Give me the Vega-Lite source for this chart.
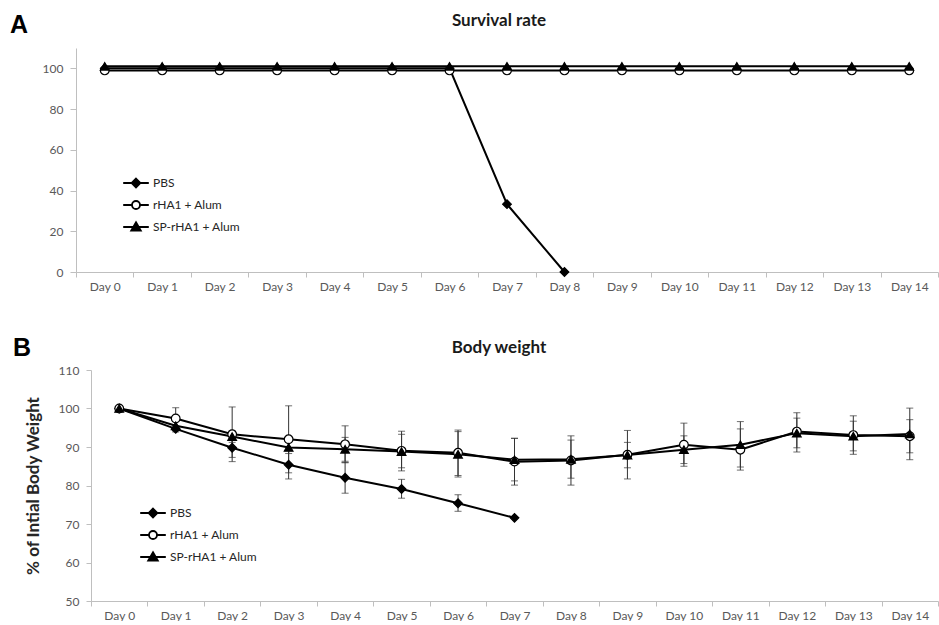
{
  "$schema": "https://vega.github.io/schema/vega-lite/v6.json",
  "background": "white",
  "padding": {"left": 10, "top": 12, "right": 0, "bottom": 0},
  "config": {
    "view": {"stroke": null},
    "font": "Lato",
    "axis": {"grid": false, "domainColor": "#BFBFBF", "tickColor": "#BFBFBF", "labelColor": "#595959", "labelFont": "Lato", "labelFontSize": 12, "tickSize": 5, "labelPadding": 7},
    "title": {"font": "Lato", "fontWeight": "bold", "fontSize": 17, "color": "#1a1a1a"},
    "legend": {"padding": 0, "rowPadding": 5, "labelFont": "Lato", "labelFontSize": 12, "labelColor": "#262626", "symbolSize": 256, "symbolStrokeWidth": 1.8, "labelOffset": 8}
  },
  "datasets": {
    "surv": [
      {"t": 0, "s": "PBS", "v": 100}, {"t": 1, "s": "PBS", "v": 100}, {"t": 2, "s": "PBS", "v": 100}, {"t": 3, "s": "PBS", "v": 100}, {"t": 4, "s": "PBS", "v": 100}, {"t": 5, "s": "PBS", "v": 100}, {"t": 6, "s": "PBS", "v": 100}, {"t": 7, "s": "PBS", "v": 33.3}, {"t": 8, "s": "PBS", "v": 0},
      {"t": 0, "s": "rHA1 + Alum", "v": 99}, {"t": 1, "s": "rHA1 + Alum", "v": 99}, {"t": 2, "s": "rHA1 + Alum", "v": 99}, {"t": 3, "s": "rHA1 + Alum", "v": 99}, {"t": 4, "s": "rHA1 + Alum", "v": 99}, {"t": 5, "s": "rHA1 + Alum", "v": 99}, {"t": 6, "s": "rHA1 + Alum", "v": 99}, {"t": 7, "s": "rHA1 + Alum", "v": 99}, {"t": 8, "s": "rHA1 + Alum", "v": 99}, {"t": 9, "s": "rHA1 + Alum", "v": 99}, {"t": 10, "s": "rHA1 + Alum", "v": 99}, {"t": 11, "s": "rHA1 + Alum", "v": 99}, {"t": 12, "s": "rHA1 + Alum", "v": 99}, {"t": 13, "s": "rHA1 + Alum", "v": 99}, {"t": 14, "s": "rHA1 + Alum", "v": 99},
      {"t": 0, "s": "SP-rHA1 + Alum", "v": 101}, {"t": 1, "s": "SP-rHA1 + Alum", "v": 101}, {"t": 2, "s": "SP-rHA1 + Alum", "v": 101}, {"t": 3, "s": "SP-rHA1 + Alum", "v": 101}, {"t": 4, "s": "SP-rHA1 + Alum", "v": 101}, {"t": 5, "s": "SP-rHA1 + Alum", "v": 101}, {"t": 6, "s": "SP-rHA1 + Alum", "v": 101}, {"t": 7, "s": "SP-rHA1 + Alum", "v": 101}, {"t": 8, "s": "SP-rHA1 + Alum", "v": 101}, {"t": 9, "s": "SP-rHA1 + Alum", "v": 101}, {"t": 10, "s": "SP-rHA1 + Alum", "v": 101}, {"t": 11, "s": "SP-rHA1 + Alum", "v": 101}, {"t": 12, "s": "SP-rHA1 + Alum", "v": 101}, {"t": 13, "s": "SP-rHA1 + Alum", "v": 101}, {"t": 14, "s": "SP-rHA1 + Alum", "v": 101}
    ],
    "bw": [
      {"t": 0, "s": "PBS", "w": 100, "lo": null, "hi": null},
      {"t": 1, "s": "PBS", "w": 94.7, "lo": 93.9, "hi": 95.5},
      {"t": 2, "s": "PBS", "w": 89.8, "lo": 87.3, "hi": 92.3},
      {"t": 3, "s": "PBS", "w": 85.4, "lo": 81.7, "hi": 89.1},
      {"t": 4, "s": "PBS", "w": 82.0, "lo": 78.0, "hi": 86.0},
      {"t": 5, "s": "PBS", "w": 79.1, "lo": 76.7, "hi": 81.6},
      {"t": 6, "s": "PBS", "w": 75.4, "lo": 73.3, "hi": 77.6},
      {"t": 7, "s": "PBS", "w": 71.6, "lo": null, "hi": null},
      {"t": 0, "s": "rHA1 + Alum", "w": 100, "lo": null, "hi": null},
      {"t": 1, "s": "rHA1 + Alum", "w": 97.4, "lo": 94.6, "hi": 100.2},
      {"t": 2, "s": "rHA1 + Alum", "w": 93.3, "lo": 86.2, "hi": 100.4},
      {"t": 3, "s": "rHA1 + Alum", "w": 92.0, "lo": 83.3, "hi": 100.7},
      {"t": 4, "s": "rHA1 + Alum", "w": 90.7, "lo": 85.9, "hi": 95.5},
      {"t": 5, "s": "rHA1 + Alum", "w": 89.0, "lo": 83.8, "hi": 94.1},
      {"t": 6, "s": "rHA1 + Alum", "w": 88.5, "lo": 82.6, "hi": 94.4},
      {"t": 7, "s": "rHA1 + Alum", "w": 86.2, "lo": 80.1, "hi": 92.3},
      {"t": 8, "s": "rHA1 + Alum", "w": 86.5, "lo": 80.1, "hi": 92.9},
      {"t": 9, "s": "rHA1 + Alum", "w": 88.0, "lo": 81.7, "hi": 94.3},
      {"t": 10, "s": "rHA1 + Alum", "w": 90.6, "lo": 85.0, "hi": 96.2},
      {"t": 11, "s": "rHA1 + Alum", "w": 89.3, "lo": 84.0, "hi": 94.7},
      {"t": 12, "s": "rHA1 + Alum", "w": 94.0, "lo": 88.7, "hi": 98.9},
      {"t": 13, "s": "rHA1 + Alum", "w": 93.1, "lo": 88.1, "hi": 98.1},
      {"t": 14, "s": "rHA1 + Alum", "w": 92.8, "lo": 88.5, "hi": 97.1},
      {"t": 0, "s": "SP-rHA1 + Alum", "w": 100, "lo": null, "hi": null},
      {"t": 1, "s": "SP-rHA1 + Alum", "w": 95.5, "lo": 94.2, "hi": 96.8},
      {"t": 2, "s": "SP-rHA1 + Alum", "w": 92.7, "lo": 91.2, "hi": 94.2},
      {"t": 3, "s": "SP-rHA1 + Alum", "w": 89.9, "lo": 88.3, "hi": 91.5},
      {"t": 4, "s": "SP-rHA1 + Alum", "w": 89.4, "lo": 86.3, "hi": 92.5},
      {"t": 5, "s": "SP-rHA1 + Alum", "w": 88.8, "lo": 84.6, "hi": 93.3},
      {"t": 6, "s": "SP-rHA1 + Alum", "w": 88.1, "lo": 82.2, "hi": 94.0},
      {"t": 7, "s": "SP-rHA1 + Alum", "w": 86.7, "lo": 81.2, "hi": 92.2},
      {"t": 8, "s": "SP-rHA1 + Alum", "w": 86.8, "lo": 81.9, "hi": 91.8},
      {"t": 9, "s": "SP-rHA1 + Alum", "w": 87.9, "lo": 84.6, "hi": 91.2},
      {"t": 10, "s": "SP-rHA1 + Alum", "w": 89.3, "lo": 85.7, "hi": 92.9},
      {"t": 11, "s": "SP-rHA1 + Alum", "w": 90.6, "lo": 84.8, "hi": 96.6},
      {"t": 12, "s": "SP-rHA1 + Alum", "w": 93.6, "lo": 89.8, "hi": 97.5},
      {"t": 13, "s": "SP-rHA1 + Alum", "w": 92.8, "lo": 89.0, "hi": 96.7},
      {"t": 14, "s": "SP-rHA1 + Alum", "w": 93.4, "lo": 86.7, "hi": 100.1}
    ]
  },
  "spacing": 44,
  "resolve": {"scale": {"shape": "independent", "fill": "independent", "stroke": "independent"}, "legend": {"shape": "independent", "fill": "independent", "stroke": "independent"}},
  "vconcat": [
    {
      "title": {"text": "A", "anchor": "start", "frame": "group", "font": "Liberation Sans", "fontSize": 25, "fontWeight": "bold", "color": "black", "dx": -66, "dy": 30},
      "vconcat": [
        {
          "width": 862,
          "height": 224,
          "title": {"text": "Survival rate", "offset": 18, "dx": -8},
          "data": {"name": "surv"},
          "encoding": {
            "x": {"field": "t", "type": "ordinal", "scale": {"type": "band", "paddingInner": 0, "paddingOuter": 0}, "axis": {"title": null, "labelExpr": "isValid(datum.value) ? 'Day ' + datum.value : ''", "labelAngle": 0, "tickBand": "extent", "labelPadding": 4}},
            "y": {"field": "v", "type": "quantitative", "scale": {"domain": [0, 110]}, "axis": {"title": null, "values": [0, 20, 40, 60, 80, 100], "tickSize": 6}}
          },
          "resolve": {"scale": {"shape": "independent", "fill": "independent", "stroke": "independent"}, "legend": {"shape": "independent", "fill": "independent", "stroke": "independent"}},
          "layer": [
            {"mark": {"type": "line", "color": "black", "strokeWidth": 2}, "encoding": {"detail": {"field": "s"}}},
            {
              "mark": {"type": "point", "filled": true, "stroke": "black", "strokeWidth": 1.2, "size": 75, "opacity": 1},
              "encoding": {
                "shape": {"field": "s", "type": "nominal", "scale": {"domain": ["PBS", "rHA1 + Alum", "SP-rHA1 + Alum"], "range": ["diamond", "circle", "triangle-up"]}, "legend": null},
                "fill": {"field": "s", "type": "nominal", "scale": {"domain": ["PBS", "rHA1 + Alum", "SP-rHA1 + Alum"], "range": ["black", "white", "black"]}, "legend": null}
              }
            },
            {
              "transform": [{"filter": "false"}],
              "mark": {"type": "point", "filled": true, "strokeWidth": 1.8, "opacity": 1},
              "encoding": {
                "shape": {"field": "s", "type": "nominal", "scale": {"domain": ["PBS", "rHA1 + Alum", "SP-rHA1 + Alum"], "range": ["M-1.6,0H1.6M0,-0.55L0.55,0L0,0.55L-0.55,0Z", "M-1.6,0H-0.5M0.5,0H1.6M0.5,0A0.5,0.5,0,1,1,-0.5,0A0.5,0.5,0,1,1,0.5,0Z", "M-1.6,0H1.6M0,-0.6L0.6,0.45L-0.6,0.45Z"]}, "legend": {"title": null, "orient": "none", "legendX": 51, "legendY": 126}},
                "fill": {"field": "s", "type": "nominal", "scale": {"domain": ["PBS", "rHA1 + Alum", "SP-rHA1 + Alum"], "range": ["black", "white", "black"]}, "legend": {"title": null, "orient": "none", "legendX": 51, "legendY": 126}},
                "stroke": {"field": "s", "type": "nominal", "scale": {"domain": ["PBS", "rHA1 + Alum", "SP-rHA1 + Alum"], "range": ["black", "black", "black"]}, "legend": {"title": null, "orient": "none", "legendX": 51, "legendY": 126}}
              }
            }
          ]
        }
      ]
    },
    {
      "title": {"text": "B", "anchor": "start", "frame": "group", "font": "Liberation Sans", "fontSize": 25, "fontWeight": "bold", "color": "black", "dx": -63, "dy": 26},
      "vconcat": [
        {
          "width": 862,
          "height": 231,
          "title": {"text": "Body weight", "offset": 7, "dx": -8},
          "data": {"name": "bw"},
          "encoding": {
            "x": {"field": "t", "type": "ordinal", "scale": {"type": "band", "paddingInner": 0, "paddingOuter": 0, "range": [15, 862]}, "axis": {"title": null, "labelExpr": "isValid(datum.value) ? 'Day ' + datum.value : ''", "labelAngle": 0, "tickBand": "extent", "labelPadding": 4}}
          },
          "resolve": {"scale": {"shape": "independent", "fill": "independent", "stroke": "independent"}, "legend": {"shape": "independent", "fill": "independent", "stroke": "independent"}},
          "layer": [
            {"mark": {"type": "rule", "color": "#333333", "strokeWidth": 1},
             "encoding": {"y": {"field": "lo", "type": "quantitative", "scale": {"domain": [50, 110]}, "axis": {"title": "% of Intial Body Weight", "values": [50, 60, 70, 80, 90, 100, 110], "offset": -15, "titleFont": "Lato", "titleFontSize": 17, "titleFontWeight": "bold", "titleColor": "#262626", "titlePadding": 16}}, "y2": {"field": "hi"}}},
            {"mark": {"type": "tick", "color": "#333333", "thickness": 1, "size": 7},
             "encoding": {"y": {"field": "lo", "type": "quantitative", "scale": {"domain": [50, 110]}, "axis": {"title": "% of Intial Body Weight", "values": [50, 60, 70, 80, 90, 100, 110], "offset": -15, "titleFont": "Lato", "titleFontSize": 17, "titleFontWeight": "bold", "titleColor": "#262626", "titlePadding": 16}}}},
            {"mark": {"type": "tick", "color": "#333333", "thickness": 1, "size": 7},
             "encoding": {"y": {"field": "hi", "type": "quantitative", "scale": {"domain": [50, 110]}, "axis": {"title": "% of Intial Body Weight", "values": [50, 60, 70, 80, 90, 100, 110], "offset": -15, "titleFont": "Lato", "titleFontSize": 17, "titleFontWeight": "bold", "titleColor": "#262626", "titlePadding": 16}}}},
            {"mark": {"type": "line", "color": "black", "strokeWidth": 2},
             "encoding": {"y": {"field": "w", "type": "quantitative", "scale": {"domain": [50, 110]}, "axis": {"title": "% of Intial Body Weight", "values": [50, 60, 70, 80, 90, 100, 110], "offset": -15, "titleFont": "Lato", "titleFontSize": 17, "titleFontWeight": "bold", "titleColor": "#262626", "titlePadding": 16}}, "detail": {"field": "s"}}},
            {
              "mark": {"type": "point", "filled": true, "stroke": "black", "strokeWidth": 1.2, "size": 75, "opacity": 1},
              "encoding": {
                "y": {"field": "w", "type": "quantitative", "scale": {"domain": [50, 110]}, "axis": {"title": "% of Intial Body Weight", "values": [50, 60, 70, 80, 90, 100, 110], "offset": -15, "titleFont": "Lato", "titleFontSize": 17, "titleFontWeight": "bold", "titleColor": "#262626", "titlePadding": 16}},
                "shape": {"field": "s", "type": "nominal", "scale": {"domain": ["PBS", "rHA1 + Alum", "SP-rHA1 + Alum"], "range": ["diamond", "circle", "triangle-up"]}, "legend": null},
                "fill": {"field": "s", "type": "nominal", "scale": {"domain": ["PBS", "rHA1 + Alum", "SP-rHA1 + Alum"], "range": ["black", "white", "black"]}, "legend": null}
              }
            },
            {
              "transform": [{"filter": "false"}],
              "mark": {"type": "point", "filled": true, "strokeWidth": 1.8, "opacity": 1},
              "encoding": {
                "y": {"field": "w", "type": "quantitative", "scale": {"domain": [50, 110]}, "axis": {"title": "% of Intial Body Weight", "values": [50, 60, 70, 80, 90, 100, 110], "offset": -15, "titleFont": "Lato", "titleFontSize": 17, "titleFontWeight": "bold", "titleColor": "#262626", "titlePadding": 16}},
                "shape": {"field": "s", "type": "nominal", "scale": {"domain": ["PBS", "rHA1 + Alum", "SP-rHA1 + Alum"], "range": ["M-1.6,0H1.6M0,-0.55L0.55,0L0,0.55L-0.55,0Z", "M-1.6,0H-0.5M0.5,0H1.6M0.5,0A0.5,0.5,0,1,1,-0.5,0A0.5,0.5,0,1,1,0.5,0Z", "M-1.6,0H1.6M0,-0.6L0.6,0.45L-0.6,0.45Z"]}, "legend": {"title": null, "orient": "none", "legendX": 68, "legendY": 134}},
                "fill": {"field": "s", "type": "nominal", "scale": {"domain": ["PBS", "rHA1 + Alum", "SP-rHA1 + Alum"], "range": ["black", "white", "black"]}, "legend": {"title": null, "orient": "none", "legendX": 68, "legendY": 134}},
                "stroke": {"field": "s", "type": "nominal", "scale": {"domain": ["PBS", "rHA1 + Alum", "SP-rHA1 + Alum"], "range": ["black", "black", "black"]}, "legend": {"title": null, "orient": "none", "legendX": 68, "legendY": 134}}
              }
            }
          ]
        }
      ]
    }
  ]
}
